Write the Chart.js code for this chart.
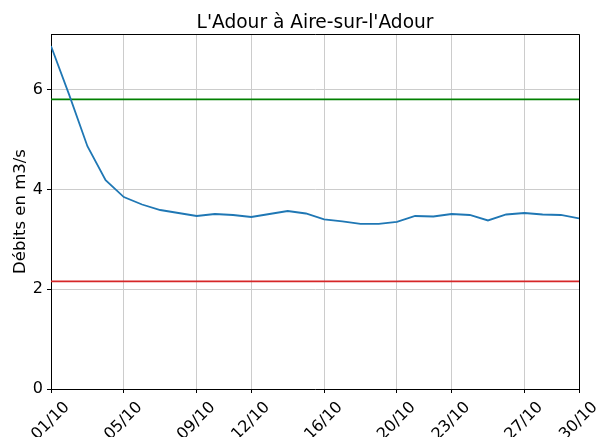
<!DOCTYPE html>
<html>
<head>
<meta charset="utf-8">
<script src="https://cdn.jsdelivr.net/npm/chart.js@4/dist/chart.umd.min.js"></script>
<style>
  html, body { margin: 0; padding: 0; background: #fff; }
  #wrap { width: 600px; height: 437px; }
</style>
</head>
<body>
<div id="wrap"><canvas id="debit-chart"></canvas></div>
<script>
/*---------- Data ----------------*/
const dates = [
  "01/10", "02/10", "03/10", "04/10", "05/10", "06/10", "07/10", "08/10", "09/10", "10/10",
  "11/10", "12/10", "13/10", "14/10", "15/10", "16/10", "17/10", "18/10", "19/10", "20/10",
  "21/10", "22/10", "23/10", "24/10", "25/10", "26/10", "27/10", "28/10", "29/10", "30/10",
];
const debits = [
  6.88, 5.90, 4.87, 4.19, 3.85, 3.70, 3.59, 3.53, 3.47, 3.51,
  3.49, 3.45, 3.51, 3.57, 3.52, 3.40, 3.36, 3.31, 3.31, 3.35,
  3.47, 3.46, 3.51, 3.49, 3.38, 3.50, 3.53, 3.50, 3.49, 3.42,
];
const seuilHaut = 5.81;
const seuilBas = 2.16;
const tickDates = ["01/10", "05/10", "09/10", "12/10", "16/10", "20/10", "23/10", "27/10", "30/10"];
const yTicks = [0, 2, 4, 6];

const fontFamily = "'DejaVu Sans', sans-serif";
const last = dates.length - 1;

// top and right spines, like matplotlib
const framePlugin = {
  id: "frame",
  afterDatasetsDraw(chart) {
    const { ctx, chartArea } = chart;
    ctx.save();
    ctx.strokeStyle = "#000";
    ctx.lineWidth = 1;
    ctx.beginPath();
    ctx.moveTo(chartArea.left, chartArea.top + 0.5);
    ctx.lineTo(chartArea.right + 0.5, chartArea.top + 0.5);
    ctx.lineTo(chartArea.right + 0.5, chartArea.bottom);
    ctx.stroke();
    ctx.restore();
  },
};

const debitData = {
  datasets: [
    {
      label: "Débit",
      data: debits.map((v, i) => ({ x: i, y: v })),
      borderColor: "#1f77b4",
      borderWidth: 1.8,
      pointRadius: 0,
      tension: 0,
    },
    {
      label: "Seuil haut",
      data: [{ x: 0, y: seuilHaut }, { x: last, y: seuilHaut }],
      borderColor: "#008000",
      borderWidth: 1.8,
      pointRadius: 0,
    },
    {
      label: "Seuil bas",
      data: [{ x: 0, y: seuilBas }, { x: last, y: seuilBas }],
      borderColor: "#d62728",
      borderWidth: 1.8,
      pointRadius: 0,
    },
  ],
};

const gridStyle = { color: "#cccccc", lineWidth: 1, tickColor: "#000", tickLength: 4 };

const debitOptions = {
  responsive: true,
  maintainAspectRatio: false,
  animation: false,
  layout: { padding: { left: 0, right: 21, top: 0, bottom: 0 } },
  plugins: {
    legend: { display: false },
    tooltip: { enabled: false },
  },
  scales: {
    // top axis only carries the title so it is centred over the plot
    xTop: {
      type: "linear",
      position: "top",
      min: 0,
      max: last,
      afterFit: (scale) => {
        scale.height = 34;
      },
      ticks: { display: false },
      grid: { display: false, drawTicks: false },
      border: { display: false },
      title: {
        display: true,
        text: "L'Adour à Aire-sur-l'Adour",
        color: "#000",
        font: { family: fontFamily, size: 18.6 },
        padding: { top: 12.5, bottom: 0 },
      },
    },
    x: {
      type: "linear",
      position: "bottom",
      min: 0,
      max: last,
      afterBuildTicks: (scale) => {
        scale.ticks = tickDates.map((d) => ({ value: dates.indexOf(d) }));
      },
      afterFit: (scale) => {
        scale.height = 48;
      },
      ticks: {
        autoSkip: false,
        minRotation: 45,
        maxRotation: 45,
        labelOffset: 16,
        padding: 5,
        color: "#000",
        font: { family: fontFamily, size: 16 },
        callback: (value) => dates[value],
      },
      grid: gridStyle,
      border: { color: "#000", width: 1 },
    },
    y: {
      min: 0,
      max: 7.12,
      afterBuildTicks: (scale) => {
        scale.ticks = yTicks.map((v) => ({ value: v }));
      },
      afterFit: (scale) => {
        scale.width = 51;
      },
      ticks: {
        padding: 4,
        color: "#000",
        font: { family: fontFamily, size: 16 },
      },
      grid: gridStyle,
      border: { color: "#000", width: 1 },
      title: {
        display: true,
        text: "Débits en m3/s",
        color: "#000",
        font: { family: fontFamily, size: 16.5 },
        padding: { top: 10.5, bottom: 0 },
      },
    },
  },
};

/*---------- Create line chart ----------------*/
const debitChart = new Chart(document.getElementById("debit-chart"), {
  type: "line",
  data: debitData,
  options: debitOptions,
  plugins: [framePlugin],
});
</script>
</body>
</html>
